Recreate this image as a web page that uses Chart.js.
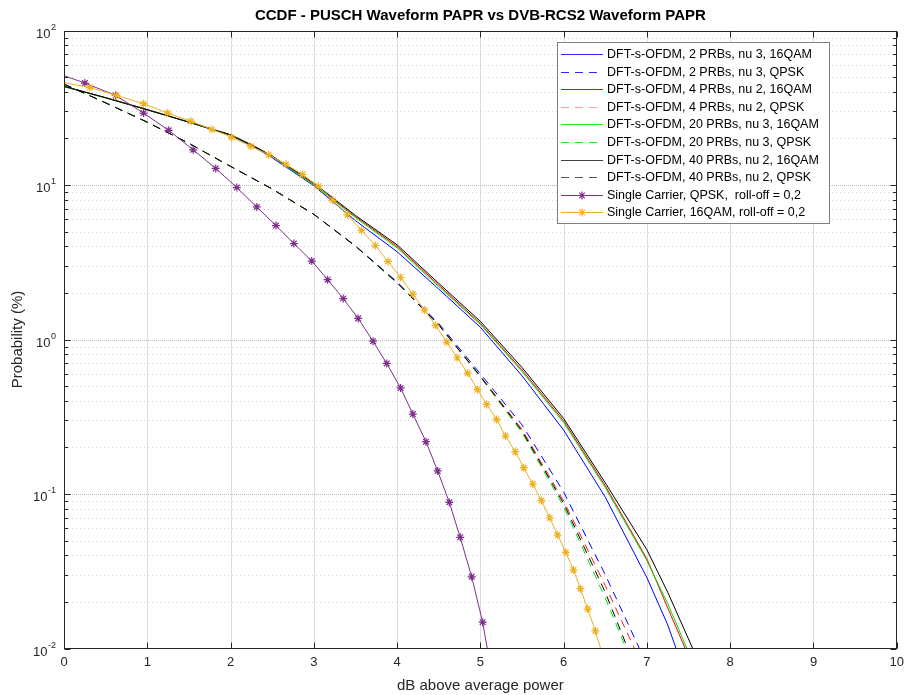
<!DOCTYPE html>
<html><head><meta charset="utf-8">
<script src="https://cdn.jsdelivr.net/npm/chart.js@4.4.1/dist/chart.umd.min.js"></script>
<style>html,body{margin:0;padding:0;background:#fff;}canvas{display:block;}</style>
</head><body>
<canvas id="c" width="910" height="695"></canvas>
<script>
const FONT = "'Liberation Sans', Arial, Helvetica, sans-serif";
const chartTitle = 'CCDF - PUSCH Waveform PAPR vs DVB-RCS2 Waveform PAPR';
const xAxisTitle = 'dB above average power';
const yAxisTitle = 'Probability (%)';
const xTickValues = [0,1,2,3,4,5,6,7,8,9,10];
const yDecadeExponents = [-2,-1,0,1,2];

const seriesLabels = [
  'DFT-s-OFDM, 2 PRBs, nu 3, 16QAM',
  'DFT-s-OFDM, 2 PRBs, nu 3, QPSK',
  'DFT-s-OFDM, 4 PRBs, nu 2, 16QAM',
  'DFT-s-OFDM, 4 PRBs, nu 2, QPSK',
  'DFT-s-OFDM, 20 PRBs, nu 3, 16QAM',
  'DFT-s-OFDM, 20 PRBs, nu 3, QPSK',
  'DFT-s-OFDM, 40 PRBs, nu 2, 16QAM',
  'DFT-s-OFDM, 40 PRBs, nu 2, QPSK',
  'Single Carrier, QPSK,  roll-off = 0,2',
  'Single Carrier, 16QAM, roll-off = 0,2'
];

// DFT-s-OFDM 16QAM (solid)
const xBlue16  = [0,0.5,1,1.5,2,2.3,2.5,3,3.5,4,4.5,5,5.5,6,6.5,7,7.25,7.35];
const yBlue16  = [43.5,36.7,30.7,25.5,21.0,17.4,15.0,9.9,5.88,3.70,2.12,1.20,0.582,0.259,0.0953,0.0287,0.0142,0.01];
const xRed16   = [0,0.5,1,1.5,2,2.3,2.5,3,3.5,4,4.5,5,5.5,6,6.5,7,7.25,7.46];
const yRed16   = [43.5,36.8,30.8,25.6,21.2,17.7,15.3,10.1,6.25,4.0,2.25,1.27,0.635,0.297,0.113,0.038,0.0183,0.01];
const xGreen16 = [0,0.5,1,1.5,2,2.3,2.5,3,3.5,4,4.5,5,5.5,6,6.5,7,7.25,7.48];
const yGreen16 = [43.3,36.6,30.6,25.5,21.1,17.6,15.3,10.0,6.15,3.92,2.2,1.25,0.62,0.29,0.11,0.037,0.0195,0.01];
const xBlack16 = [0,0.5,1,1.5,2,2.3,2.5,3,3.5,4,4.5,5,5.5,6,6.5,7,7.25,7.55];
const yBlack16 = [43.5,36.7,30.7,25.5,21.1,17.6,15.4,10.3,6.35,4.1,2.31,1.31,0.659,0.308,0.118,0.0435,0.0231,0.01];

// DFT-s-OFDM QPSK (dashed)
const xBlueQ  = [0,0.5,1,1.5,2,2.5,3,3.5,4,4.5,5,5.5,6,6.5,6.91];
const yBlueQ  = [45,34,25.5,18.6,13.2,9.42,6.46,4.04,2.36,1.27,0.60,0.28,0.103,0.030,0.01];
const xRedQ   = [0,0.5,1,1.5,2,2.5,3,3.5,4,4.5,5,5.5,6,6.5,6.85];
const yRedQ   = [45,34,25.5,18.6,13.2,9.42,6.46,4.02,2.33,1.245,0.58,0.262,0.090,0.0255,0.01];
const xGreenQ = [0,0.5,1,1.5,2,2.5,3,3.5,4,4.5,5,5.5,6,6.5,6.75];
const yGreenQ = [45,34,25.5,18.6,13.2,9.42,6.46,4.02,2.33,1.24,0.572,0.25,0.083,0.0212,0.01];
const xBlackQ = [0,0.5,1,1.5,2,2.5,3,3.5,4,4.5,5,5.5,6,6.5,6.77];
const yBlackQ = [45,34,25.5,18.6,13.2,9.42,6.46,4.02,2.33,1.24,0.577,0.256,0.0867,0.0231,0.01];

// Single carrier, QPSK
const xScQpsk = [0,0.251,0.621,0.955,1.257,1.551,1.822,2.076,2.315,2.545,2.760,2.975,3.166,3.353,3.532,3.711,3.875,4.042,4.189,4.347,4.487,4.627,4.758,4.896,5.027,5.083];
const yScQpsk = [51,45.7,38.0,29.2,22.6,16.9,12.8,9.62,7.21,5.46,4.18,3.22,2.44,1.84,1.37,0.975,0.700,0.486,0.329,0.218,0.141,0.0883,0.0524,0.0291,0.0148,0.01];
// Single carrier, 16QAM
const xSc16 = [0,0.310,0.629,0.955,1.245,1.524,1.775,2.013,2.243,2.458,2.665,2.864,3.055,3.226,3.405,3.572,3.739,3.890,4.042,4.189,4.328,4.463,4.597,4.722,4.848,4.964,5.075,5.195,5.302,5.418,5.521,5.629,5.732,5.832,5.927,6.026,6.118,6.201,6.289,6.381,6.444];
const ySc16 = [46,42.7,38.0,33.6,29.2,25.9,22.9,20.4,17.8,15.7,13.6,11.7,9.82,7.96,6.40,5.09,4.06,3.20,2.52,1.96,1.55,1.23,0.962,0.762,0.605,0.475,0.380,0.304,0.237,0.188,0.148,0.116,0.0909,0.0702,0.0542,0.0419,0.0322,0.0244,0.0180,0.0130,0.01];

const seriesX = [xBlue16,xBlueQ,xRed16,xRedQ,xGreen16,xGreenQ,xBlack16,xBlackQ,xScQpsk,xSc16];
const seriesY = [yBlue16,yBlueQ,yRed16,yRedQ,yGreen16,yGreenQ,yBlack16,yBlackQ,yScQpsk,ySc16];
const seriesColors = ['#0000ff','#0000ff','#ff0000','#ff1a1a','#00e000','#00e000','#000000','#000000','#7e2f8e','#edb120'];
const legendColors = ['#2b2bff','#2b2bff','#ff0000','#ff9c9c','#1aee1a','#1aee1a','#404040','#555555','#7e2f8e','#edb120'];
const seriesDashed = [false,true,false,true,false,true,false,true,false,false];
const seriesMarker = [false,false,false,false,false,false,false,false,true,true];

const datasets = seriesLabels.map((label,i)=>{
  const xs = seriesX[i], ys = seriesY[i];
  return {
    label,
    data: xs.map((x,k)=>({x, y: ys[k]})),
    borderColor: seriesColors[i],
    backgroundColor: seriesColors[i],
    borderWidth: 1,
    borderDash: seriesDashed[i] ? [8,6] : [],
    tension: 0,
    fill: false,
    pointStyle: 'star',
    pointRadius: seriesMarker[i] ? (c)=> (c.dataIndex===0 || c.dataIndex===xs.length-1) ? 0 : 4 : 0,
    pointBorderColor: seriesColors[i],
    pointBorderWidth: 1.2,
    order: 20 - i
  };
});

function dotted(ctx, x1,y1,x2,y2, color, dash){
  ctx.beginPath(); ctx.strokeStyle=color; ctx.setLineDash(dash);
  ctx.moveTo(x1,y1); ctx.lineTo(x2,y2); ctx.stroke();
}

const framePlugin = {
  id: 'frame',
  beforeDatasetsDraw(chart){
    const {ctx, chartArea:a, scales:{x,y}} = chart;
    ctx.save(); ctx.lineWidth = 1;
    for (let e=-2; e<2; e++) for (let m=2; m<=9; m++){
      const py = Math.round(y.getPixelForValue(m*Math.pow(10,e)))+0.5;
      dotted(ctx, a.left, py, a.right, py, '#d4d4d4', [1,3]);
    }
    yDecadeExponents.slice(1,-1).forEach(e=>{
      const py = Math.round(y.getPixelForValue(Math.pow(10,e)))+0.5;
      dotted(ctx, a.left, py, a.right, py, '#bababa', [1,1]);
    });
    xTickValues.slice(1,-1).forEach(v=>{
      const px = Math.round(x.getPixelForValue(v))+0.5;
      dotted(ctx, px, a.top, px, a.bottom, '#bababa', [1,1]);
    });
    ctx.restore();
  },
  afterDraw(chart){
    const {ctx, chartArea:a, scales:{x,y}} = chart;
    ctx.save();
    ctx.setLineDash([]); ctx.lineWidth=1; ctx.strokeStyle='#262626';
    const L = Math.round(a.left)+0.5, R = Math.round(a.right)-0.5, T = Math.round(a.top)+0.5, B = Math.round(a.bottom)-0.5;
    ctx.strokeRect(L, T, R-L, B-T);
    ctx.beginPath();
    xTickValues.forEach(v=>{
      const px = Math.round(x.getPixelForValue(v))+0.5;
      ctx.moveTo(px,B); ctx.lineTo(px,B-6);
      ctx.moveTo(px,T); ctx.lineTo(px,T+6);
    });
    for (let e=-2; e<2; e++) for (let m=1; m<=9; m++){
      const py = Math.round(y.getPixelForValue(m*Math.pow(10,e)))+0.5;
      const len = m===1 ? 6 : 3.5;
      ctx.moveTo(L,py); ctx.lineTo(L+len,py);
      ctx.moveTo(R,py); ctx.lineTo(R-len,py);
    }
    ctx.stroke();
    // y tick labels 10^n
    ctx.fillStyle='#262626';
    ctx.textBaseline='alphabetic';
    yDecadeExponents.forEach(e=>{
      const py = y.getPixelForValue(Math.pow(10,e));
      const exp = String(e);
      ctx.font = '9px ' + FONT;
      const ew = ctx.measureText(exp).width;
      ctx.textAlign='left';
      const right = 56;
      ctx.fillText(exp, right-ew, py-1);
      ctx.font = '13px ' + FONT;
      ctx.textAlign='right';
      ctx.fillText('10', right-ew-0.5, py+7);
    });
    // title
    ctx.font = 'bold 15px ' + FONT;
    ctx.textAlign='center'; ctx.textBaseline='middle'; ctx.fillStyle='#000';
    ctx.fillText(chartTitle, (a.left+a.right)/2, 16);
    // legend
    const bx=557.5, by=42.5, bw=272, bh=181;
    ctx.fillStyle='#fff'; ctx.fillRect(bx,by,bw,bh);
    ctx.strokeStyle='#808080'; ctx.lineWidth=1; ctx.strokeRect(bx,by,bw,bh);
    chart.data.datasets.forEach((ds,i)=>{
      const cy = 54 + i*17.6;
      const c = legendColors[i];
      const yy = Math.round(cy)+0.5;
      ctx.strokeStyle=c; ctx.lineWidth=1;
      ctx.setLineDash(seriesDashed[i] ? [8,6] : []);
      ctx.beginPath(); ctx.moveTo(561, yy); ctx.lineTo(603, yy); ctx.stroke();
      ctx.setLineDash([]);
      if (seriesMarker[i]){
        const cx=582, r=4;
        ctx.lineWidth=1.2;
        ctx.beginPath();
        ctx.moveTo(cx-r,yy); ctx.lineTo(cx+r,yy);
        ctx.moveTo(cx,yy-r); ctx.lineTo(cx,yy+r);
        const d=r*Math.SQRT1_2;
        ctx.moveTo(cx-d,yy-d); ctx.lineTo(cx+d,yy+d);
        ctx.moveTo(cx-d,yy+d); ctx.lineTo(cx+d,yy-d);
        ctx.stroke();
      }
      ctx.fillStyle='#000'; ctx.font='12.5px ' + FONT;
      ctx.textAlign='left'; ctx.textBaseline='middle';
      ctx.fillText(ds.label, 607, cy+0.5);
    });
    ctx.restore();
  }
};

new Chart(document.getElementById('c'), {
  type: 'line',
  data: { datasets },
  options: {
    responsive: false, animation: false, devicePixelRatio: 1,
    layout: { padding: { left: 0, right: 8, top: 30.5, bottom: 0 } },
    plugins: { legend: { display: false }, tooltip: { enabled: false }, title: { display: false } },
    scales: {
      x: {
        type: 'linear', min: 0, max: 10,
        ticks: { stepSize: 1, color: '#262626', font: { family: FONT, size: 13 }, padding: 6, maxRotation: 0, autoSkip: false },
        grid: { display: false, drawTicks: false },
        border: { display: false },
        title: { display: true, text: xAxisTitle, color: '#262626', font: { family: FONT, size: 15 }, padding: { top: 0, bottom: 0 } },
        afterFit(s){ s.height = 46.5; }
      },
      y: {
        type: 'logarithmic', min: 0.01, max: 100,
        ticks: { display: false },
        grid: { display: false, drawTicks: false },
        border: { display: false },
        title: { display: true, text: yAxisTitle, color: '#262626', font: { family: FONT, size: 15 }, padding: { top: 9, bottom: 0 } },
        afterFit(s){ s.width = 64; }
      }
    }
  },
  plugins: [framePlugin]
});
</script>
</body></html>
